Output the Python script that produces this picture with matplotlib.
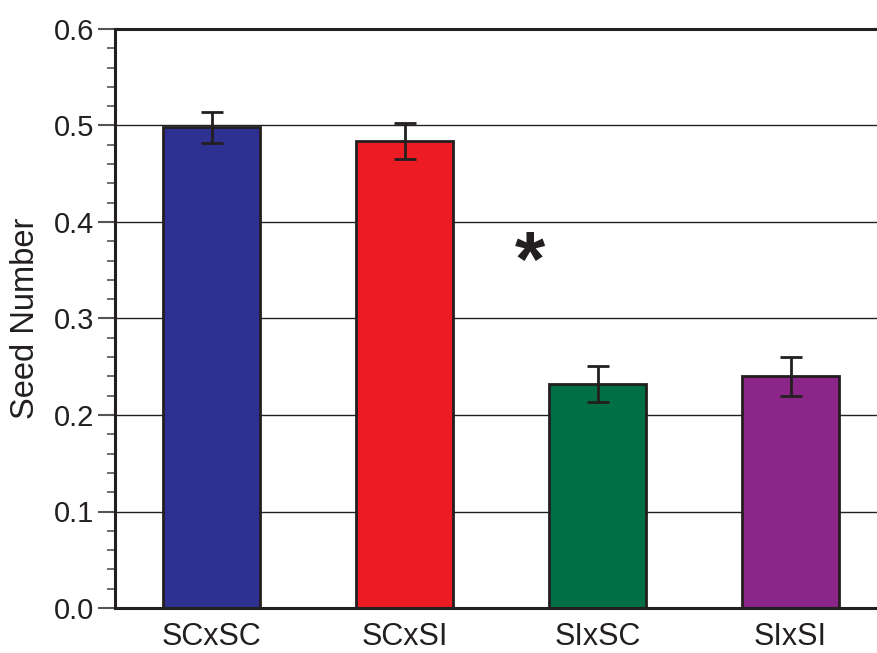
import matplotlib
matplotlib.use("Agg")
from matplotlib import pyplot as plt
from matplotlib.ticker import MultipleLocator
import numpy as np

# data
crosses = ["SCxSC", "SCxSI", "SIxSC", "SIxSI"]
seed_number = [0.498, 0.484, 0.232, 0.240]
seed_err = [0.016, 0.019, 0.019, 0.020]
bar_colors = ["#2e3192", "#ed1c24", "#006f45", "#8b2589"]

plt.rcParams['font.family'] = ['Liberation Sans', 'DejaVu Sans']

fig = plt.figure(figsize=(8.77, 6.53), dpi=100)
ax = fig.add_axes([115 / 877, 1 - 608 / 653, (887 - 115) / 877, (608 - 29) / 653])

x = np.arange(len(crosses))
ax.bar(x, seed_number, width=0.5, color=bar_colors, edgecolor="#231f20",
       linewidth=2, zorder=2)
ax.errorbar(x, seed_number, yerr=seed_err, fmt="none", ecolor="#231f20",
            elinewidth=2, capsize=8, capthick=2, zorder=3)

# significance mark
ax.text(1.65, 0.355, "*", fontsize=56, fontweight="bold", ha="center",
        va="center", color="#231f20")

ax.set_xlim(-0.5, 3.5)
ax.set_ylim(0, 0.6)
ax.yaxis.set_major_locator(MultipleLocator(0.1))
ax.yaxis.set_minor_locator(MultipleLocator(0.02))
ax.yaxis.set_major_formatter(matplotlib.ticker.FormatStrFormatter("%.1f"))
ax.yaxis.grid(True, color="#231f20", linewidth=1, zorder=0)
ax.set_axisbelow(True)

ax.set_xticks(x)
ax.set_xticklabels(crosses)
ax.tick_params(axis="x", length=0, labelsize=22, pad=10, colors="#231f20")
ax.tick_params(axis="y", which="major", length=12, width=1.5, labelsize=21,
               pad=3, color="#555555", labelcolor="#231f20")
ax.tick_params(axis="y", which="minor", length=6, width=1.2, color="#555555")
ax.set_ylabel("Seed Number", fontsize=23.5, color="#231f20", labelpad=9)

for side in ["left", "bottom", "top", "right"]:
    ax.spines[side].set_linewidth(2.2)
    ax.spines[side].set_color("#231f20")

plt.savefig("out.png", dpi=100)
plt.close()
